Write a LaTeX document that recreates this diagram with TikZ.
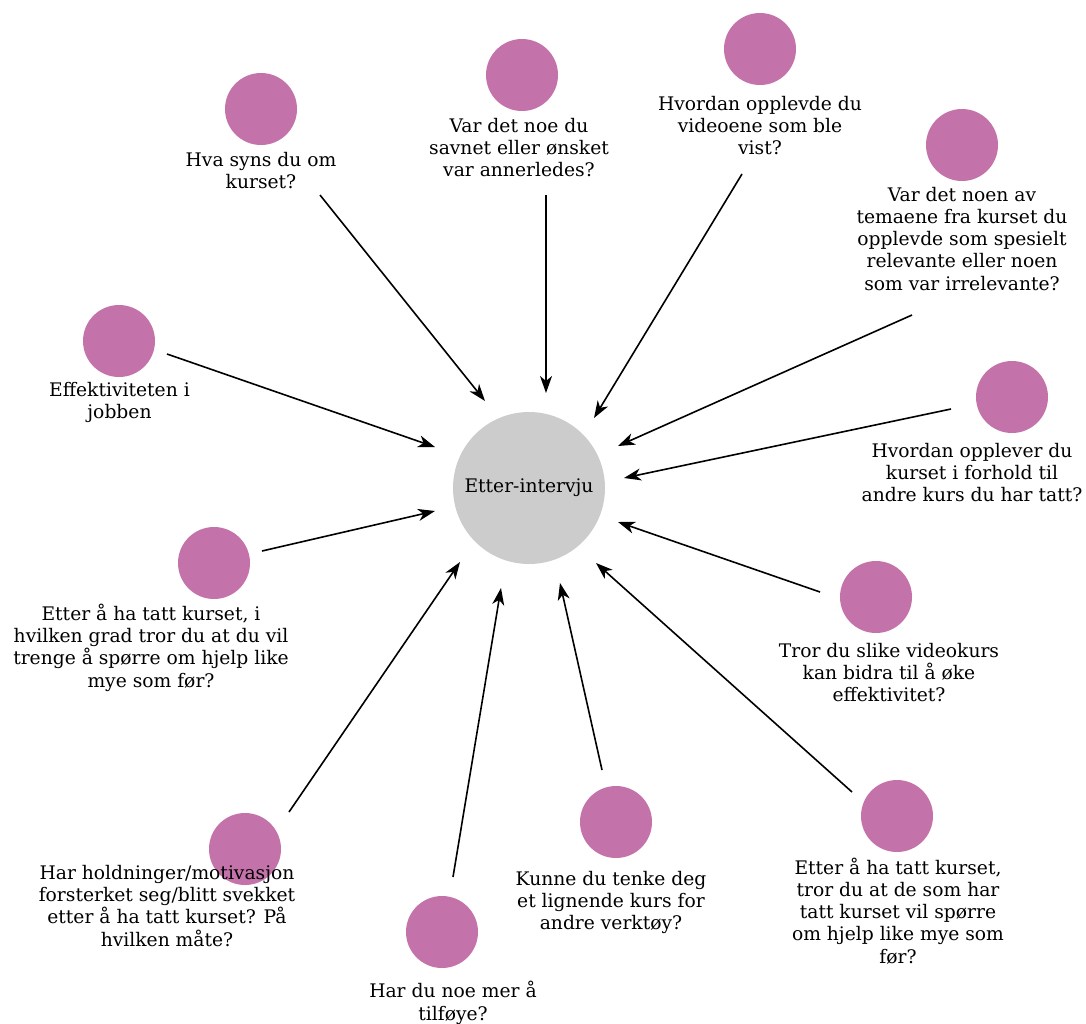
\documentclass[tikz,border=0pt]{standalone}
\usepackage{fontspec}
\setmainfont{DejaVu Serif}
\usetikzlibrary{arrows.meta}
\definecolor{qpurple}{RGB}{196,114,170}
\definecolor{hubgray}{RGB}{204,204,204}
\begin{document}
\begin{tikzpicture}[x=1pt,y=-1pt,
  question/.style={circle,fill=qpurple,draw=none,minimum size=72pt,inner sep=0pt},
  hub/.style={circle,fill=hubgray,draw=none,minimum size=152pt,inner sep=0pt,
    font=\fontsize{18.7}{22}\selectfont},
  % anchor=base sits on the last line of a multi-line text
  qlabel/.style={align=center,anchor=base,inner sep=0pt,
    font=\fontsize{18.7}{22.3}\selectfont},
  link/.style={line width=1.6pt,-{Stealth[length=17pt,width=12pt,inset=5pt]}}]
\useasboundingbox (0,0) rectangle (1086,1023);

\node[hub] (c) at (529,488) {Etter-intervju};

% question circles
\node[question] (q1) at (261,109) {};
\node[question] (q2) at (522,75) {};
\node[question] (q3) at (760,49) {};
\node[question] (q4) at (962,145) {};
\node[question] (q5) at (1012,397) {};
\node[question] (q6) at (876,597) {};
\node[question] (q7) at (897,816) {};
\node[question] (q8) at (616,822) {};
\node[question] (q9) at (442,932) {};
\node[question] (q10) at (245,849) {};
\node[question] (q11) at (214,563) {};
\node[question] (q12) at (119,341) {};

% question texts
\node[qlabel] (l1) at (261,188.3) {Hva syns du om\\kurset?};
\node[qlabel] (l2) at (519,176.6) {Var det noe du\\savnet eller ønsket\\var annerledes?};
\node[qlabel] (l3) at (760,154.6) {Hvordan opplevde du\\videoene som ble\\vist?};
\node[qlabel] (l4) at (962,290.2) {Var det noen av\\temaene fra kurset du\\opplevde som spesielt\\relevante eller noen\\som var irrelevante?};
\node[qlabel] (l5) at (972,501.6) {Hvordan opplever du\\kurset i forhold til\\andre kurs du har tatt?};
\node[qlabel] (l6) at (889,701.6) {Tror du slike videokurs\\kan bidra til å øke\\effektivitet?};
\node[qlabel] (l7) at (898,963.2) {Etter å ha tatt kurset,\\tror du at de som har\\tatt kurset vil spørre\\om hjelp like mye som\\før?};
\node[qlabel] (l8) at (611,929.6) {Kunne du tenke deg\\et lignende kurs for\\andre verktøy?};
\node[qlabel] (l9) at (453,1020) {Har du noe mer å\\tilføye?};
\node[qlabel] (l10) at (167,946) {Har holdninger/motivasjon\\forsterket seg/blitt svekket\\etter å ha tatt kurset? På\\hvilken måte?};
\node[qlabel] (l11) at (151,687) {Etter å ha tatt kurset, i\\hvilken grad tror du at du vil\\trenge å spørre om hjelp like\\mye som før?};
\node[qlabel] (l12) at (119.5,418.5) {Effektiviteten i\\jobben};

% connector ends
\coordinate (t1) at (320,195);  \coordinate (h1) at (485,401);
\coordinate (t2) at (546,195);  \coordinate (h2) at (546,393);
\coordinate (t3) at (742,174);  \coordinate (h3) at (594,418);
\coordinate (t4) at (912,315);  \coordinate (h4) at (618,446);
\coordinate (t5) at (951,409);  \coordinate (h5) at (624,478);
\coordinate (t6) at (820,592);  \coordinate (h6) at (618,522);
\coordinate (t7) at (852,792);  \coordinate (h7) at (596,563);
\coordinate (t8) at (602,770);  \coordinate (h8) at (560,583);
\coordinate (t9) at (453,877);  \coordinate (h9) at (501,588);
\coordinate (t10) at (289,812); \coordinate (h10) at (460,562);
\coordinate (t11) at (262,551); \coordinate (h11) at (435,511);
\coordinate (t12) at (167,354); \coordinate (h12) at (435,447);

\foreach \i in {1,...,12} \draw[link] (t\i) -- (h\i);
\end{tikzpicture}
\end{document}
